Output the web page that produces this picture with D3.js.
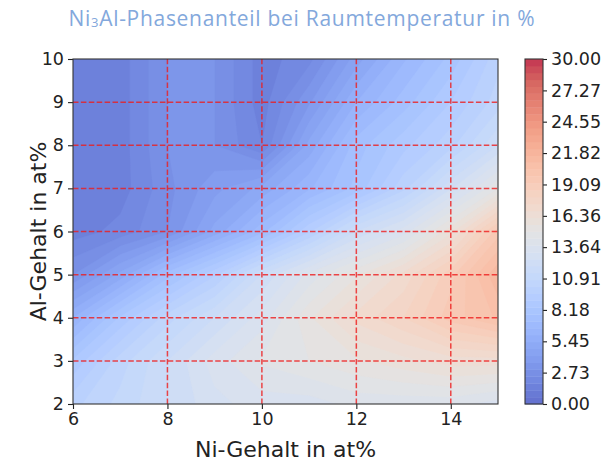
<!DOCTYPE html>
<html>
<head>
<meta charset="utf-8">
<script src="https://cdn.jsdelivr.net/npm/d3@7"></script>
<style>
body { margin: 0; background: #fff; }
svg { display: block; }
.tick text { fill: #222; font-family: "DejaVu Sans", sans-serif; }
.tick line { stroke: #222; }
</style>
</head>
<body>
<div id="chart"></div>
<script>
// Rasterpunkte (Ni-Gehalt, Al-Gehalt in at%)
const niValues = [6, 7, 8, 9, 10, 11, 12, 13, 14, 15];
const alValues = [2, 3, 4, 5, 6, 7, 8, 9, 10];

// Ni3Al-Phasenanteil in %, eine Zeile je Al-Gehalt
const phaseAl2  = [10.0, 11.0, 12.0, 13.0, 13.5, 13.5, 14.0, 14.0, 14.0, 13.5];
const phaseAl3  = [ 8.5, 10.5, 12.0, 13.5, 14.5, 15.0, 15.5, 16.0, 16.5, 16.5];
const phaseAl4  = [ 6.0,  8.5, 10.5, 12.0, 13.5, 15.5, 17.0, 18.0, 19.5, 20.5];
const phaseAl5  = [ 3.0,  5.0,  7.5,  9.5, 12.0, 14.0, 15.5, 17.0, 19.0, 21.5];
const phaseAl6  = [ 1.5,  2.0,  3.0,  5.0,  7.0,  9.5, 12.0, 13.5, 16.0, 19.5];
const phaseAl7  = [ 1.5,  1.5,  2.8,  4.0,  5.0,  6.5,  8.0, 10.0, 12.5, 15.0];
const phaseAl8  = [ 1.5,  1.5,  3.0,  3.0,  1.8,  5.0,  7.5,  8.8, 10.0, 12.0];
const phaseAl9  = [ 1.5,  1.5,  3.0,  3.0,  1.5,  3.5,  6.0,  7.5,  9.0, 10.5];
const phaseAl10 = [ 1.5,  1.5,  3.0,  3.0,  1.5,  2.2,  4.5,  6.5,  8.0, 10.0];

const xTicks = [6, 8, 10, 12, 14];
const yTicks = [2, 3, 4, 5, 6, 7, 8, 9, 10];
const cbarTicks = [0, 2.73, 5.45, 8.18, 10.91, 13.64, 16.36, 19.09, 21.82, 24.55, 27.27, 30];

// coolwarm (Moreland) Stützfarben
const coolwarmColors = ["#3b4cc0", "#4d68d7", "#6282ea", "#779af7", "#8db0fe", "#a3c2ff",
    "#b8d0f9", "#ccd9ee", "#dddddd", "#ecd3c5", "#f5c4ad", "#f7b194", "#f49a7b",
    "#ec7f63", "#de604d", "#cb3e38", "#b40426"];

const width = 603, height = 466;
const margin = { left: 73, top: 59, right: 498, bottom: 404 };
const vMin = 0, vMax = 30, levelCount = 50;

const coolwarm = d3.piecewise(d3.interpolateRgb, coolwarmColors);
// alpha 0.8 auf weissem Grund
const bandColor = t => d3.interpolateRgb(coolwarm(t), "#ffffff")(0.2);

const levels = d3.range(levelCount + 1).map(i => vMin + (vMax - vMin) * i / levelCount);

const x = d3.scaleLinear().domain([6, 15]).range([margin.left, margin.right]);
const y = d3.scaleLinear().domain([2, 10]).range([margin.bottom, margin.top]);

const svg = d3.select("#chart").append("svg")
    .attr("width", width)
    .attr("height", height);

svg.append("defs").append("clipPath")
    .attr("id", "plot-clip")
    .append("rect")
    .attr("x", margin.left)
    .attr("y", margin.top)
    .attr("width", margin.right - margin.left)
    .attr("height", margin.bottom - margin.top);

// Konturflaechen
const grid = [phaseAl2, phaseAl3, phaseAl4, phaseAl5, phaseAl6, phaseAl7, phaseAl8, phaseAl9, phaseAl10].flat();
const contours = d3.contours()
    .size([niValues.length, alValues.length])
    .thresholds(levels.slice(0, -1))(grid);

const niStep = niValues[1] - niValues[0];
const alStep = alValues[1] - alValues[0];
const toScreen = d3.geoTransform({
    point(px, py) {
        this.stream.point(
            x(niValues[0] + (px - 0.5) * niStep),
            y(alValues[0] + (py - 0.5) * alStep)
        );
    }
});
const path = d3.geoPath(toScreen);

svg.append("g")
    .attr("clip-path", "url(#plot-clip)")
    .selectAll("path")
    .data(contours)
    .enter().append("path")
    .attr("d", path)
    .attr("fill", (d, i) => bandColor((i + 0.5) / levelCount))
    .attr("stroke", (d, i) => bandColor((i + 0.5) / levelCount))
    .attr("stroke-width", 0.3);

// Gitterlinien rot gestrichelt
const gridG = svg.append("g")
    .attr("stroke", "#ee1c1c")
    .attr("stroke-opacity", 0.8)
    .attr("stroke-width", 1.5)
    .attr("stroke-dasharray", "5.5,2.4");

gridG.selectAll("line.v")
    .data(xTicks.filter(v => v > 6 && v < 15))
    .enter().append("line")
    .attr("x1", d => x(d)).attr("x2", d => x(d))
    .attr("y1", margin.bottom).attr("y2", margin.top);

gridG.selectAll("line.h")
    .data(yTicks.filter(v => v > 2 && v < 10))
    .enter().append("line")
    .attr("y1", d => y(d)).attr("y2", d => y(d))
    .attr("x1", margin.left).attr("x2", margin.right);

// Achsen
const xAxis = svg.append("g")
    .attr("transform", `translate(0,${margin.bottom})`)
    .call(d3.axisBottom(x).tickValues(xTicks).tickSize(5).tickPadding(4).tickFormat(d3.format("d")));
const yAxis = svg.append("g")
    .attr("transform", `translate(${margin.left},0)`)
    .call(d3.axisLeft(y).tickValues(yTicks).tickSize(5).tickPadding(4).tickFormat(d3.format("d")));

[xAxis, yAxis].forEach(g => {
    g.select(".domain").remove();
    g.selectAll(".tick text").style("font-size", "17.5px");
    g.selectAll(".tick line").attr("stroke-width", 1.1);
});

svg.append("rect")
    .attr("x", margin.left)
    .attr("y", margin.top)
    .attr("width", margin.right - margin.left)
    .attr("height", margin.bottom - margin.top)
    .attr("fill", "none")
    .attr("stroke", "#333")
    .attr("stroke-width", 1.1);

svg.append("text")
    .attr("x", (margin.left + margin.right) / 2)
    .attr("y", 457)
    .attr("text-anchor", "middle")
    .attr("font-family", "DejaVu Sans, sans-serif")
    .attr("font-size", "22px")
    .attr("fill", "#222")
    .text("Ni-Gehalt in at%");

svg.append("text")
    .attr("transform", `translate(46,${(margin.top + margin.bottom) / 2}) rotate(-90)`)
    .attr("text-anchor", "middle")
    .attr("font-family", "DejaVu Sans, sans-serif")
    .attr("font-size", "22px")
    .attr("fill", "#222")
    .text("Al-Gehalt in at%");

// Farbskala
const cbar = { left: 525, right: 543 };
const cy = d3.scaleLinear().domain([vMin, vMax]).range([margin.bottom, margin.top]);

svg.append("g")
    .selectAll("rect")
    .data(d3.pairs(levels))
    .enter().append("rect")
    .attr("x", cbar.left)
    .attr("width", cbar.right - cbar.left)
    .attr("y", d => cy(d[1]))
    .attr("height", d => cy(d[0]) - cy(d[1]) + 0.4)
    .attr("fill", (d, i) => bandColor((i + 0.5) / levelCount));

const cAxis = svg.append("g")
    .attr("transform", `translate(${cbar.right},0)`)
    .call(d3.axisRight(cy).tickValues(cbarTicks).tickSize(4).tickPadding(4).tickFormat(d3.format(".2f")));
cAxis.select(".domain").remove();
cAxis.selectAll(".tick text").style("font-size", "17.5px");
cAxis.selectAll(".tick line").attr("stroke-width", 1.1);

svg.append("rect")
    .attr("x", cbar.left)
    .attr("y", margin.top)
    .attr("width", cbar.right - cbar.left)
    .attr("height", margin.bottom - margin.top)
    .attr("fill", "none")
    .attr("stroke", "#333")
    .attr("stroke-width", 1.1);

// Titel
const title = svg.append("text")
    .attr("x", width / 2)
    .attr("y", 26)
    .attr("text-anchor", "middle")
    .attr("font-family", "Open Sans, sans-serif")
    .attr("font-size", "21px")
    .attr("fill", "#83a8dc")
    .attr("textLength", 466)
    .attr("lengthAdjust", "spacing");
title.append("tspan").text("Ni");
title.append("tspan").attr("font-size", "13px").attr("dy", 1).text("3");
title.append("tspan").attr("dy", -1).text("Al-Phasenanteil bei Raumtemperatur in %");
</script>
</body>
</html>
